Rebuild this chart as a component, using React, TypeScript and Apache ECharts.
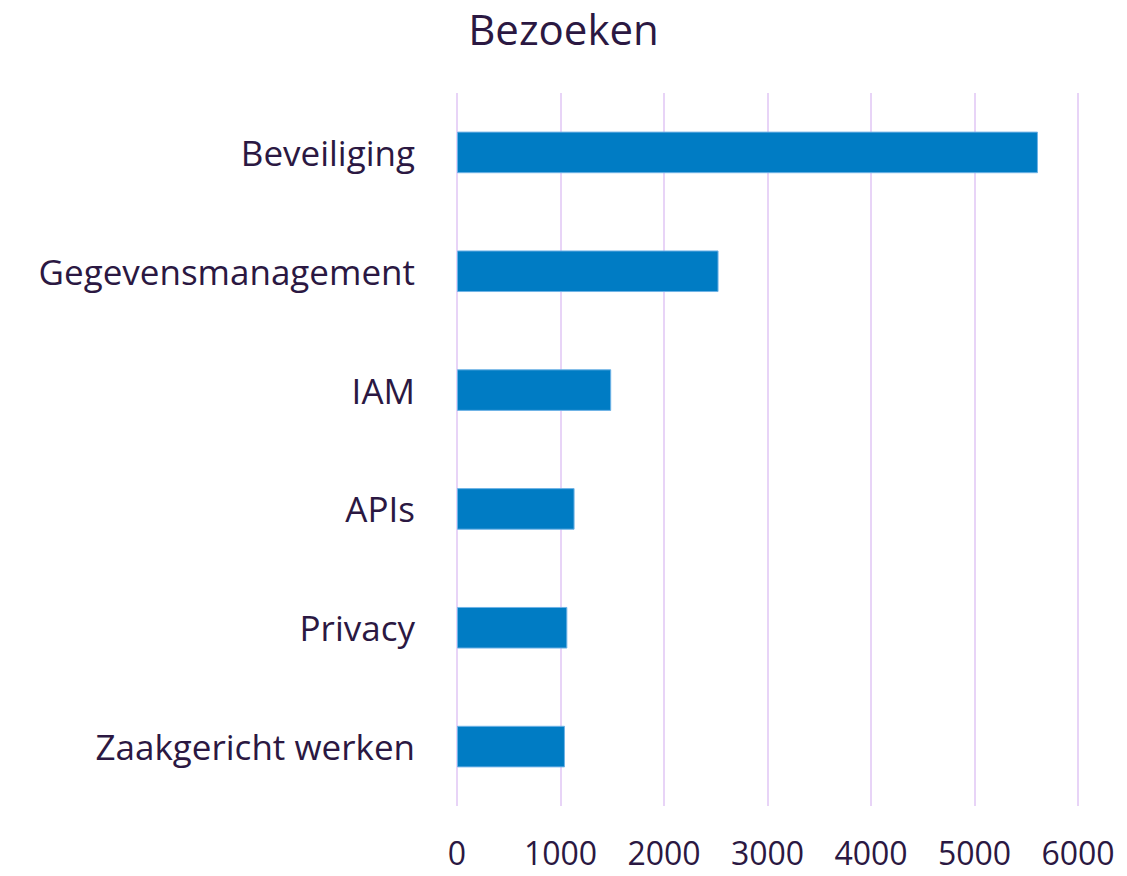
import React, { useEffect, useRef } from "react";
import * as echarts from "echarts";

const categories = [
  "Zaakgericht werken",
  "Privacy",
  "APIs",
  "IAM",
  "Gegevensmanagement",
  "Beveiliging",
];
const visits = [1043, 1066, 1136, 1490, 2527, 5613];
const xTicks = [0, 1000, 2000, 3000, 4000, 5000, 6000];

const TEXT = "#2b1842";
const FONT = "Open Sans";

export default function App() {
  const ref = useRef<HTMLDivElement>(null);
  useEffect(() => {
    const chart = echarts.init(ref.current!, null, { renderer: "svg" });
    chart.setOption({
      animation: false,
      backgroundColor: "#ffffff",
      title: {
        text: "Bezoeken",
        left: "center",
        top: 2,
        textStyle: { color: TEXT, fontFamily: FONT, fontWeight: "normal", fontSize: 42 },
      },
      grid: { left: 457, right: 49, top: 93, bottom: 70, containLabel: false },
      xAxis: {
        type: "value",
        min: xTicks[0],
        max: xTicks[xTicks.length - 1],
        interval: 1000,
        axisLine: { show: false },
        axisTick: { show: false },
        axisLabel: {
          color: TEXT,
          fontFamily: FONT,
          fontSize: 32,
          lineHeight: 30,
          margin: 31,
          formatter: (v: number) => String(v),
        },
        splitLine: { show: true, lineStyle: { color: "#e8d4f7", width: 2 } },
      },
      yAxis: {
        type: "category",
        data: categories,
        axisLine: { show: false },
        axisTick: { show: false },
        axisLabel: { color: TEXT, fontFamily: FONT, fontSize: 35, margin: 42 },
      },
      series: [
        {
          type: "bar",
          data: visits,
          barWidth: "35%",
          itemStyle: { color: "#007cc4", borderColor: "#6fb3e6", borderWidth: 1 },
        },
      ],
    });
    return () => chart.dispose();
  }, []);
  return (
    <div
      ref={ref}
      style={{ position: "fixed", left: 0, top: 0, width: 1127, height: 876 }}
    />
  );
}
